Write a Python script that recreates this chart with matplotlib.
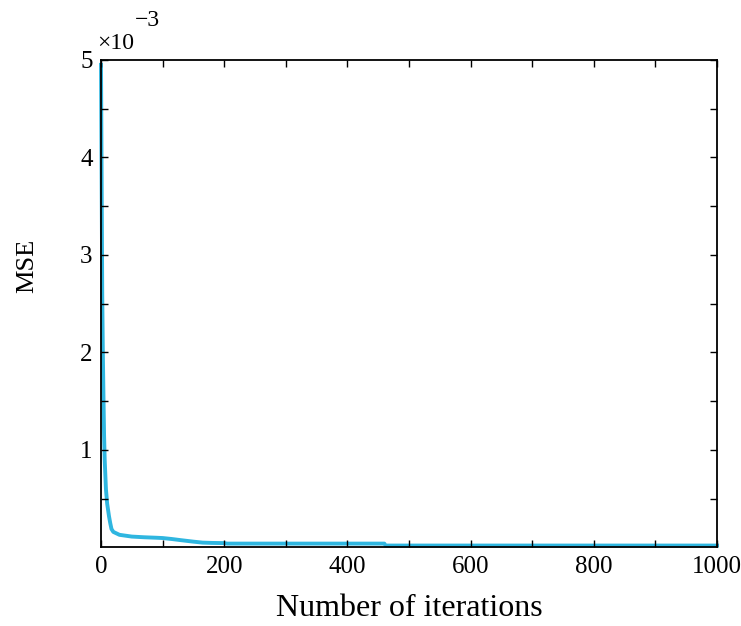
import matplotlib
matplotlib.use("Agg")
import matplotlib.pyplot as plt
import numpy as np

iterations = [0, 1, 2, 3, 4, 5, 6, 8, 10, 13, 15, 17, 20, 30, 50, 70, 90, 100,
              115, 130, 150, 165, 180, 200, 205, 300, 400, 460, 462, 600, 800, 1000]
mse_e3 = [4.95, 3.8, 2.6, 2.0, 1.55, 1.15, 0.9, 0.6, 0.45, 0.32, 0.25, 0.19, 0.16,
          0.13, 0.112, 0.105, 0.1, 0.097, 0.087, 0.075, 0.06, 0.05, 0.047, 0.045,
          0.04, 0.04, 0.04, 0.04, 0.02, 0.02, 0.02, 0.02]
x_ticks = [0, 200, 400, 600, 800, 1000]
y_ticks_e3 = [1, 2, 3, 4, 5]

plt.rcParams['font.family'] = ['Liberation Serif', 'DejaVu Serif']

fig = plt.figure(figsize=(7.41, 6.26), dpi=100)
ax = fig.add_axes([0.1363, 0.1254, 0.8313, 0.7788])

mse = np.array(mse_e3) * 1e-3
ax.plot(iterations, mse, color='#2fb6e0', lw=2.8, solid_joinstyle='round', clip_on=False, zorder=1)

ax.set_xlim(0, 1000)
ax.set_ylim(0, 5e-3)

ax.set_xticks(np.arange(0, 1001, 100))
ax.set_xticklabels([str(v) if v in x_ticks else '' for v in range(0, 1001, 100)])
yt = np.arange(0.5, 5.01, 0.5)
ax.set_yticks(yt * 1e-3)
ax.set_yticklabels([str(int(v)) if float(v).is_integer() and int(v) in y_ticks_e3 else '' for v in yt])

ax.tick_params(direction='in', top=True, right=True, length=5, width=1,
               labelsize=18, pad=6)
for s in ax.spines.values():
    s.set_linewidth(1.3)
    s.set_zorder(3)

ax.set_xlabel('Number of iterations', fontsize=23, labelpad=12)
ax.set_ylabel('MSE', fontsize=19)
ax.yaxis.set_label_coords(-0.102, 0.577)

ax.text(-0.007, 1.012, '×10', transform=ax.transAxes, fontsize=17, ha='left', va='bottom')
ax.text(0.055, 1.06, '−3', transform=ax.transAxes, fontsize=17, ha='left', va='bottom')

fig.savefig('out.png', dpi=100)
